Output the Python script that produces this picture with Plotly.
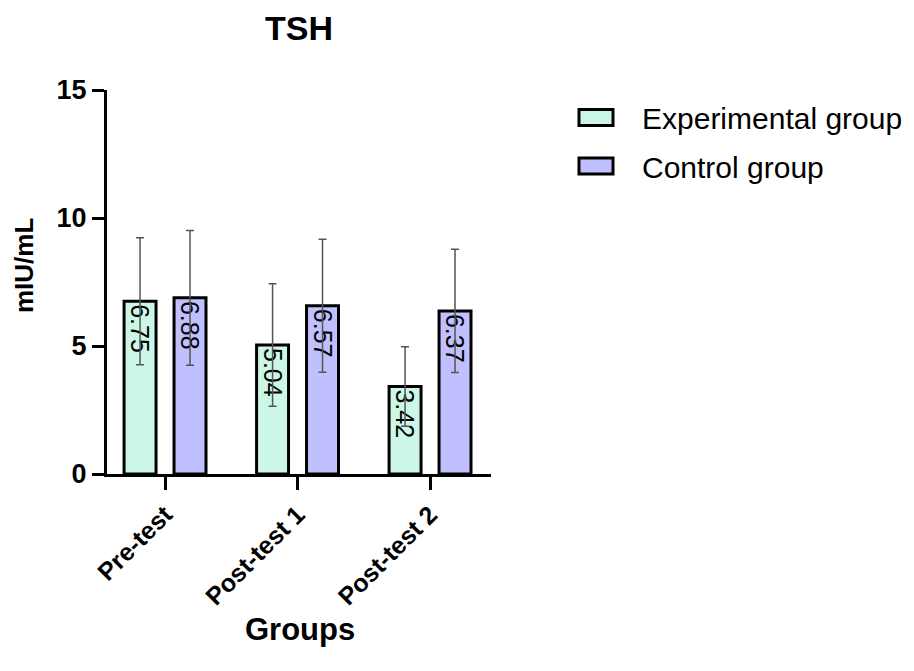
import plotly.graph_objects as go

# TSH (mIU/mL) by test phase: group means and standard deviations
phases = ["Pre-test", "Post-test 1", "Post-test 2"]
experimental_mean = [6.75, 5.04, 3.42]
experimental_sd = [2.48, 2.39, 1.55]
control_mean = [6.88, 6.57, 6.37]
control_sd = [2.63, 2.60, 2.41]
series_names = ["Experimental group", "Control group"]
y_ticks = [0, 5, 10, 15]

EXP_FILL = "#CCF7E6"
CTRL_FILL = "#C0C0FF"
FONT = "Arial, Liberation Sans, sans-serif"

# plot area in pixels (used for placing legend and axis titles)
L, R, T, B = 107, 423, 90, 197
W, H = 914, 671
PW, PH = W - L - R, H - T - B


def px_to_paper(px, py):
    return (px - L) / PW, (H - B - py) / PH


fig = go.Figure()
for name, means, sds, fill in [
    (series_names[0], experimental_mean, experimental_sd, EXP_FILL),
    (series_names[1], control_mean, control_sd, CTRL_FILL),
]:
    fig.add_trace(go.Bar(
        name=name,
        x=phases,
        y=means,
        text=[f"{v:.2f}" for v in means],
        textposition="inside",
        insidetextanchor="end",
        textangle=90,
        insidetextfont=dict(family=FONT, size=25, color="black"),
        marker=dict(color=fill, line=dict(color="black", width=3)),
        error_y=dict(type="data", array=sds, visible=True,
                     color="#555555", thickness=1.5, width=4),
        showlegend=False,
    ))

# legend: outlined swatches with labels
for i, (name, fill) in enumerate([(series_names[0], EXP_FILL), (series_names[1], CTRL_FILL)]):
    cy = 117.5 + i * 48.5
    x0, y0 = px_to_paper(579, cy - 8)
    x1, y1 = px_to_paper(613, cy + 8)
    fig.add_shape(type="rect", xref="paper", yref="paper",
                  x0=x0, x1=x1, y0=y1, y1=y0,
                  fillcolor=fill, line=dict(color="black", width=3))
    tx, ty = px_to_paper(640, cy + 1)
    fig.add_annotation(xref="paper", yref="paper", x=tx, y=ty,
                       xanchor="left", yanchor="middle", showarrow=False,
                       text=name, font=dict(family=FONT, size=30, color="black"))

# axis titles
gx, gy = px_to_paper(300, 629)
fig.add_annotation(xref="paper", yref="paper", x=gx, y=gy,
                   xanchor="center", yanchor="middle", showarrow=False,
                   text="<b>Groups</b>", font=dict(family=FONT, size=31, color="black"))
mx, my = px_to_paper(24, 266)
fig.add_annotation(xref="paper", yref="paper", x=mx, y=my,
                   xanchor="center", yanchor="middle", showarrow=False, textangle=-90,
                   text="<b>mIU/mL</b>", font=dict(family=FONT, size=26, color="black"))

fig.update_layout(
    width=W, height=H,
    margin=dict(l=L, r=R, t=T, b=B),
    plot_bgcolor="white", paper_bgcolor="white",
    barmode="group", bargap=0.246, bargroupgap=0.36,
    uniformtext=dict(mode="show", minsize=25),
    font=dict(family=FONT, color="black"),
    title=dict(text="<b>TSH</b>", x=(L + PW / 2) / W, xanchor="center",
               y=1 - 28 / H, yanchor="middle", yref="container",
               font=dict(family=FONT, size=34, color="black")),
    xaxis=dict(
        type="category", range=[-0.438, 2.46],
        showline=True, linecolor="black", linewidth=3,
        ticks="outside", ticklen=13, tickwidth=3, tickcolor="black",
        tickangle=-45, tickfont=dict(family=FONT, size=25, color="black", weight="bold"),
        showgrid=False, zeroline=False,
    ),
    yaxis=dict(
        range=[0, 15], tickvals=y_ticks,
        showline=True, linecolor="black", linewidth=3,
        ticks="outside", ticklen=12, tickwidth=3, tickcolor="black",
        tickfont=dict(family=FONT, size=27, color="black", weight="bold"),
        showgrid=False, zeroline=False,
    ),
)

fig.write_html("out.html")
